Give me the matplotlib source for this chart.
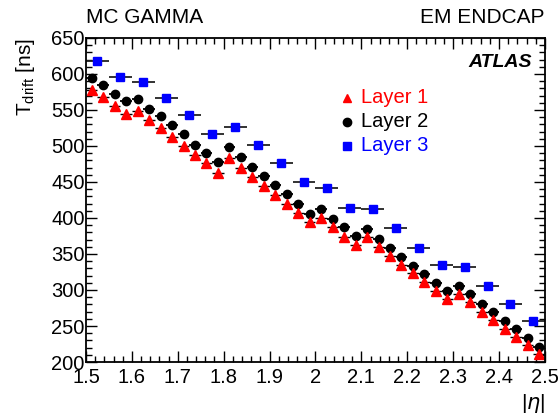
import numpy as np
import matplotlib
matplotlib.use("Agg")
import matplotlib.pyplot as plt
from matplotlib.ticker import MultipleLocator

plt.rcParams['font.family'] = ['Liberation Sans', 'DejaVu Sans']

# |eta| bin centres
eta_fine = np.arange(40) * 0.025 + 1.5125
eta_coarse = np.arange(20) * 0.05 + 1.525

layer1 = [578, 568, 556, 544, 548, 536, 525, 512, 500, 487,
          476, 463, 483, 470, 457, 444, 432, 419, 407, 395,
          400, 387, 374, 363, 373, 360, 347, 335, 323, 311,
          299, 287, 295, 283, 270, 258, 246, 235, 223, 211]
layer2 = [595, 585, 572, 562, 565, 552, 541, 529, 516, 502,
          490, 478, 498, 485, 471, 458, 446, 433, 419, 406,
          412, 399, 387, 375, 385, 371, 359, 346, 333, 322,
          310, 299, 306, 294, 281, 269, 257, 246, 234, 221]
layer3 = [618, 596, 589, 566, 543, 517, 527, 502, 477, 450,
          441, 414, 412, 386, 359, 335, 332, 305, 280, 257]

xticks = [1.5, 1.6, 1.7, 1.8, 1.9, 2.0, 2.1, 2.2, 2.3, 2.4, 2.5]
xticklabels = ["1.5", "1.6", "1.7", "1.8", "1.9", "2", "2.1", "2.2", "2.3", "2.4", "2.5"]
yticks = [200, 250, 300, 350, 400, 450, 500, 550, 600, 650]

fig = plt.figure(figsize=(5.6, 4.16), dpi=100)
ax = fig.add_axes([0.1536, 0.1298, 0.973 - 0.1536, 0.9087 - 0.1298])

ax.errorbar(eta_fine, layer2, xerr=0.0125, fmt='o', color='black', ms=6,
            elinewidth=1.3, capsize=0)
ax.errorbar(eta_fine, layer1, xerr=0.0125, fmt='^', color='red', ms=6.5,
            ecolor='black', elinewidth=1.0, capsize=0)
ax.errorbar(eta_coarse, layer3, xerr=0.025, fmt='s', color='blue', ms=5.5,
            ecolor='#222222', elinewidth=1.3, capsize=0)

ax.set_xlim(1.5, 2.5)
ax.set_ylim(200, 650)
ax.set_xticks(xticks)
ax.set_xticklabels(xticklabels)
ax.set_yticks(yticks)
ax.xaxis.set_minor_locator(MultipleLocator(0.02))
ax.yaxis.set_minor_locator(MultipleLocator(10))
ax.tick_params(which='both', direction='in', top=True, right=True, labelsize=14.5, width=1.0)
ax.tick_params(which='major', length=8)
ax.tick_params(which='minor', length=4)
ax.tick_params(axis='x', which='major', pad=4)
ax.tick_params(axis='y', which='major', pad=1)
for s in ax.spines.values():
    s.set_linewidth(1.3)

ax.set_ylabel(r'T$_{\mathregular{drift}}$ [ns]', fontsize=15, loc='top', labelpad=10)
ax.set_xlabel(r'|$\eta$|', fontsize=15, loc='right', labelpad=4)

fig.text(0.1536, 0.935, 'MC GAMMA', fontsize=15, ha='left', va='bottom')
fig.text(0.973, 0.935, 'EM ENDCAP', fontsize=15, ha='right', va='bottom')
ax.text(0.972, 0.925, 'ATLAS', transform=ax.transAxes, fontsize=14,
        fontweight='bold', fontstyle='italic', ha='right', va='center')

# legend
leg_y = [0.815, 0.741, 0.667]
leg_lab = ['Layer 1', 'Layer 2', 'Layer 3']
leg_col = ['red', 'black', 'blue']
leg_mk = ['^', 'o', 's']
for yy, lab, c, m in zip(leg_y, leg_lab, leg_col, leg_mk):
    ax.plot([0.568], [yy], marker=m, color=c, ms=6, transform=ax.transAxes, clip_on=False)
    ax.text(0.6, yy, lab, color=c, fontsize=14.5, transform=ax.transAxes,
            ha='left', va='center')

fig.savefig('out.png', dpi=100)
